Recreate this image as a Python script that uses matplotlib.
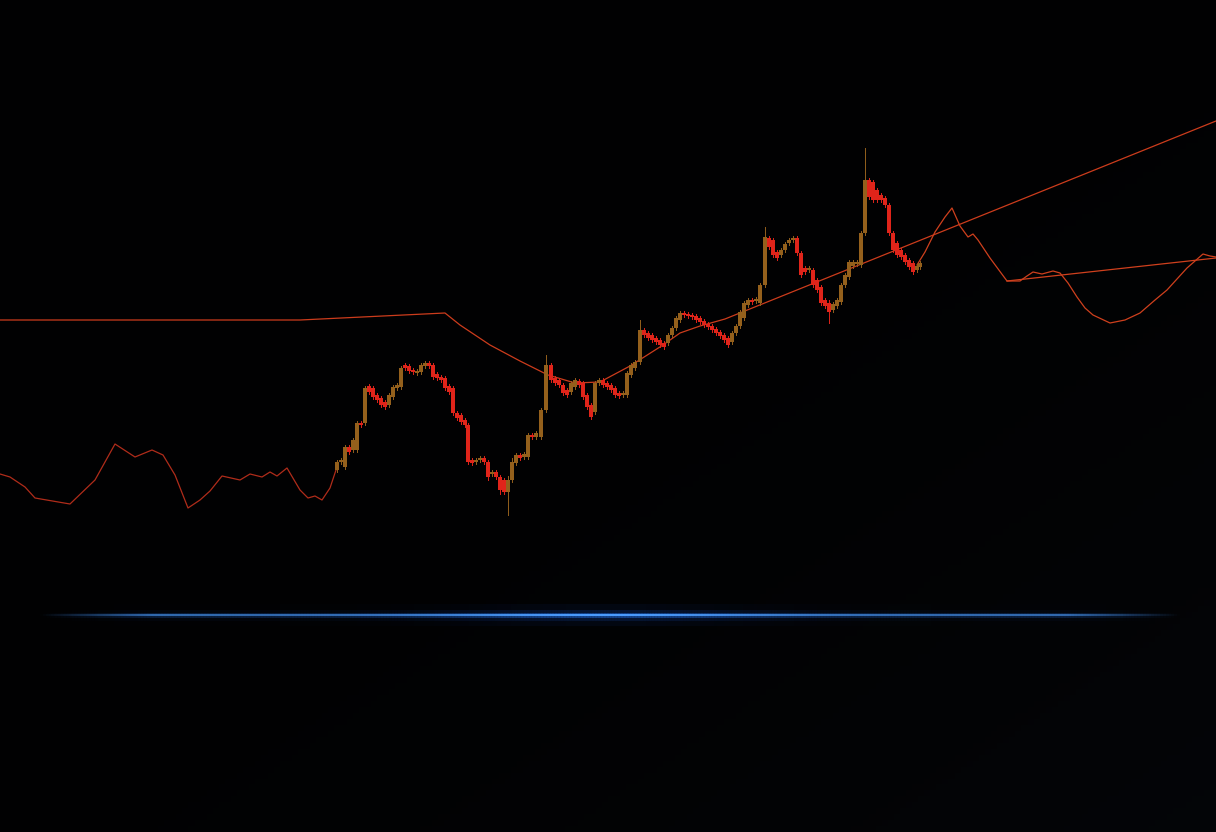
import numpy as np
import matplotlib
matplotlib.use("Agg")
import matplotlib.pyplot as plt
from matplotlib.collections import LineCollection
from matplotlib.patches import Rectangle

# %% data (screen-like units: x 0..1216, y 0..832 with y growing downward)
left_x = [0, 10, 25, 35, 70, 95, 115, 135, 152, 163, 175, 188, 200, 210, 222, 240,
          250, 262, 270, 277, 287, 300, 308, 315, 322, 330, 337]
left_y = [474, 477, 487, 498, 504, 480, 444, 457, 450, 455, 475, 508, 500, 491, 476, 480,
          474, 477, 472, 476, 468, 490, 498, 496, 500, 488, 467]

ma_x = [0, 300, 445, 460, 490, 520, 548, 575, 600, 630, 663, 680, 700, 725, 1216]
ma_y = [320, 320, 313, 325, 345, 361, 375, 383, 382, 366, 345, 333, 326, 319, 121]

right_x = [917, 925, 935, 945, 952, 960, 968, 973, 978, 990, 1007, 1020, 1027, 1033, 1042,
           1053, 1060, 1068, 1077, 1085, 1093, 1110, 1125, 1140, 1155, 1167, 1187, 1203,
           1210, 1216]
right_y = [265, 252, 232, 217, 208, 226, 237, 234, 240, 258, 281, 281, 276, 272, 274,
           271, 273, 283, 297, 308, 315, 323, 320, 313, 300, 290, 268, 254, 256, 257]

flat_x = [1007, 1216]
flat_y = [281, 258]

# candles: x, open, close (close < open means an up candle on screen)
candle_x = [337, 341, 345, 349, 353, 357, 361, 365, 369, 373, 377, 381, 385, 389, 393, 397,
            401, 405, 409, 413, 417, 421, 425, 429, 433, 437, 441, 445, 449, 453, 457, 461,
            465, 468, 472, 476, 480, 484, 488, 492, 496, 500, 504, 508, 512, 516, 520, 524,
            528, 532, 536, 541, 546, 551, 555, 559, 563, 567, 571, 575, 579, 583, 587, 591,
            595, 599, 603, 607, 611, 615, 619, 623, 627, 631, 635, 640, 644, 648, 652, 656,
            660, 664, 668, 672, 676, 680, 684, 688, 692, 696, 700, 704, 708, 712, 716, 720,
            724, 728, 732, 736, 740, 744, 748, 752, 756, 760, 765, 769, 773, 777, 781, 785,
            789, 793, 797, 801, 805, 809, 813, 817, 821, 825, 829, 833, 837, 841, 845, 849,
            853, 857, 861, 865, 869, 873, 877, 881, 885, 889, 893, 897, 901, 905, 909, 913,
            917, 920]
candle_open = [470, 462, 467, 447, 450, 450, 423, 423, 386, 388, 395, 398, 402, 405, 397, 388,
               387, 365, 366, 370, 373, 372, 366, 363, 365, 374, 377, 378, 386, 388, 413, 415,
               420, 425, 460, 462, 460, 458, 462, 474, 472, 477, 480, 492, 480, 463, 455, 457,
               457, 435, 437, 437, 410, 365, 378, 380, 385, 390, 392, 387, 381, 383, 395, 405,
               412, 383, 380, 383, 385, 388, 393, 395, 395, 375, 368, 362, 330, 333, 335, 338,
               340, 343, 343, 335, 328, 320, 313, 314, 315, 316, 318, 321, 324, 326, 329, 332,
               335, 338, 342, 333, 326, 318, 305, 300, 301, 303, 285, 238, 240, 252, 255, 250,
               243, 240, 238, 253, 268, 270, 270, 280, 287, 300, 303, 310, 306, 302, 285, 277,
               266, 264, 265, 233, 180, 182, 190, 195, 198, 205, 233, 243, 250, 255, 260, 263,
               270, 267]
candle_close = [462, 460, 447, 452, 440, 423, 425, 388, 392, 397, 400, 405, 407, 395, 387, 385,
                368, 368, 371, 372, 371, 365, 363, 366, 377, 378, 380, 388, 392, 413, 418, 422,
                425, 462, 463, 460, 458, 462, 477, 472, 477, 490, 492, 480, 462, 455, 458, 454,
                435, 437, 433, 410, 365, 380, 383, 385, 393, 395, 383, 380, 385, 397, 407, 417,
                383, 380, 385, 387, 390, 395, 396, 393, 373, 365, 362, 330, 335, 338, 340, 342,
                345, 347, 335, 328, 318, 313, 315, 316, 317, 320, 322, 325, 327, 330, 333, 336,
                340, 345, 333, 326, 312, 303, 300, 302, 299, 285, 237, 247, 255, 258, 250, 244,
                240, 238, 253, 275, 272, 268, 285, 290, 303, 306, 312, 304, 300, 285, 275, 262,
                262, 262, 233, 180, 197, 200, 200, 200, 205, 233, 250, 255, 257, 262, 267, 272,
                266, 263]
# longer wicks seen on a few candles (x: high, low)
wick_high = {508: 476, 546: 355, 640: 320, 765: 227, 829: 300, 865: 148, 512: 458}
wick_low = {508: 515, 829: 323, 488: 480, 500: 494}

glow_y = 615
glow_x0, glow_x1 = 40, 1180

# %% figure
W, H = 1216, 832
fig = plt.figure(figsize=(W / 100, H / 100), dpi=100)
ax = fig.add_axes([0, 0, 1, 1])
ax.set_xlim(0, W)
ax.set_ylim(H, 0)
ax.axis("off")

# near-black background, only a hint of blue-grey at the bottom right
gx, gy = np.meshgrid(np.linspace(0, 1, 200), np.linspace(0, 1, 140))
lift = np.clip(0.6 * gx + 0.6 * gy - 0.45, 0, 1) ** 1.5
bg = np.zeros((140, 200, 3))
bg[..., 0] = 0.004 + 0.018 * lift
bg[..., 1] = 0.005 + 0.024 * lift
bg[..., 2] = 0.008 + 0.035 * lift
ax.imshow(bg, extent=[0, W, H, 0], aspect="auto", zorder=0)

# lines
ax.plot(left_x, left_y, color="#b02c1a", lw=0.9, zorder=3)
ax.plot(ma_x, ma_y, color="#cc3c1c", lw=0.9, zorder=4)
ax.plot(right_x, right_y, color="#cf401d", lw=0.9, zorder=3)
ax.plot(flat_x, flat_y, color="#cf401d", lw=0.9, zorder=3)

# candles
up_col = "#94601c"
dn_col = "#e0241a"
bw = 3.8
for x, o, c in zip(candle_x, candle_open, candle_close):
    col = up_col if c < o else dn_col
    top, bot = min(o, c), max(o, c)
    hi = wick_high.get(x, top - 2)
    lo = wick_low.get(x, bot + 2)
    ax.plot([x, x], [hi, lo], color=col, lw=0.7, zorder=5)
    ax.add_patch(Rectangle((x - bw / 2, top), bw, max(bot - top, 1.2),
                           facecolor=col, edgecolor="none", zorder=6))

# glowing blue horizon line
xs = np.linspace(glow_x0, glow_x1, 400)
pts = np.column_stack([xs, np.full_like(xs, glow_y)])
segs = np.stack([pts[:-1], pts[1:]], axis=1)
mid = (xs[:-1] + xs[1:]) / 2
t = (mid - glow_x0) / (glow_x1 - glow_x0)
edge = np.clip(np.minimum(t, 1 - t) / 0.1, 0, 1)
centre = np.exp(-((mid - 605) / 160) ** 2)
for lw, a, base, rgb in [(16, 0.06, 0.15, (0.1, 0.35, 1.0)),
                         (8, 0.14, 0.25, (0.12, 0.42, 1.0)),
                         (3.5, 0.45, 0.45, (0.16, 0.5, 1.0)),
                         (1.4, 1.0, 0.6, (0.3, 0.62, 1.0))]:
    alpha = np.clip(a * edge * (base + (1 - base) * centre), 0, 1)
    cols = np.zeros((len(mid), 4))
    cols[:, :3] = rgb
    cols[:, 3] = alpha
    ax.add_collection(LineCollection(segs, colors=cols, linewidths=lw, zorder=7))

fig.savefig("out.png", dpi=100, facecolor="black")
